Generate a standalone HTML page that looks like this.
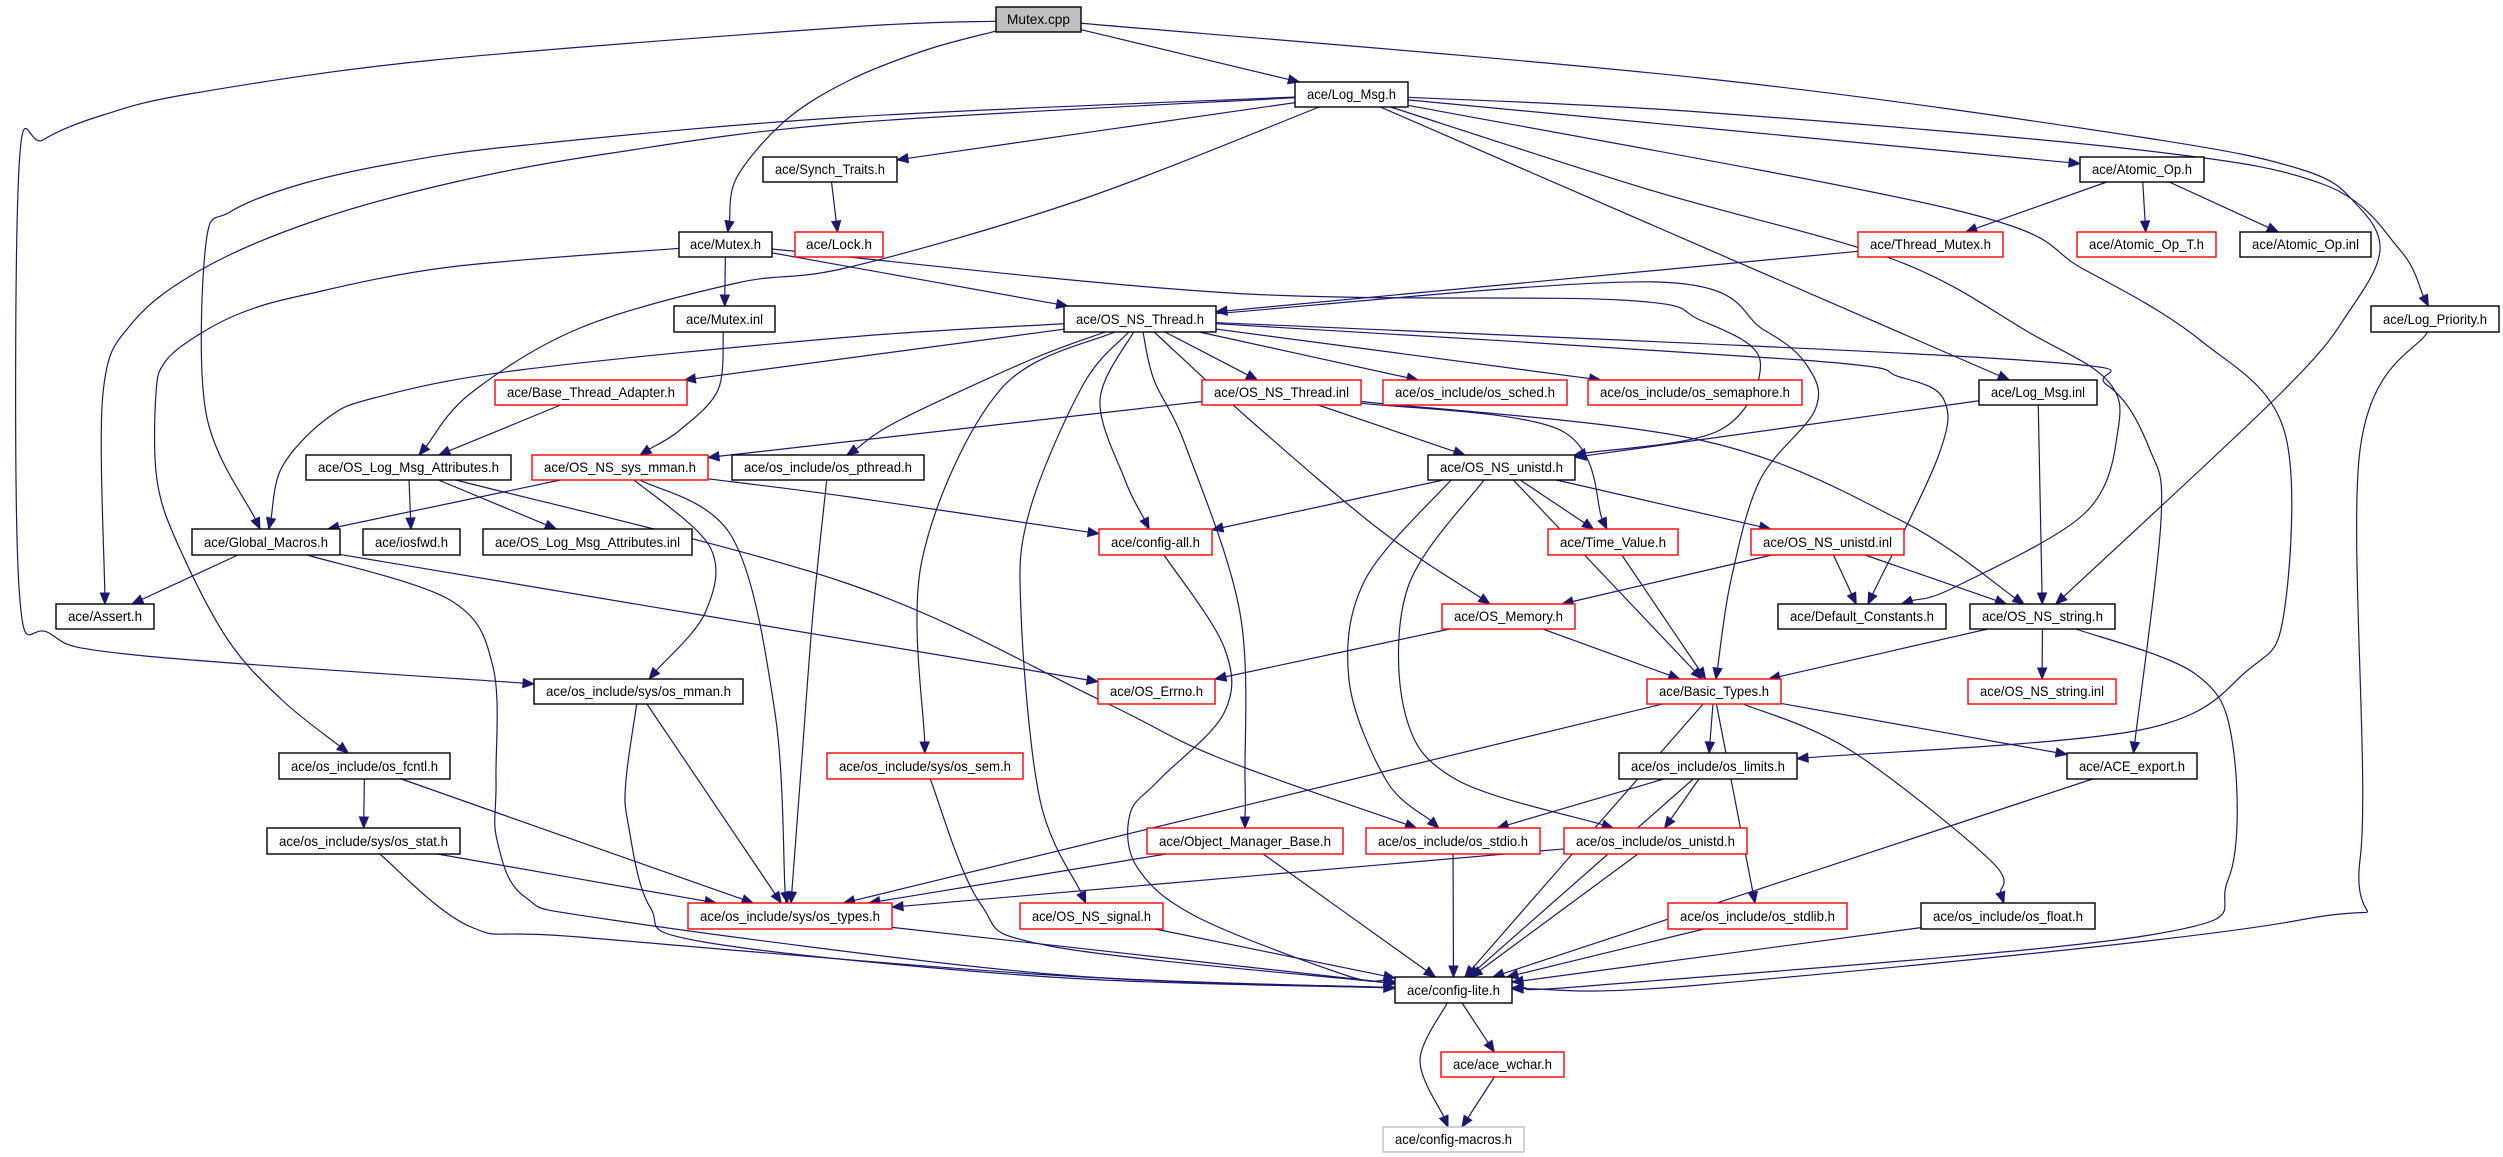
<!DOCTYPE html>
<html><head><meta charset="utf-8"><style>
html,body{margin:0;padding:0;background:#fff;width:2503px;height:1157px;overflow:hidden}
svg{display:block}
text{font-family:"Liberation Sans",sans-serif;font-size:14px;fill:#000}
</style></head><body>
<svg id="g" width="2503" height="1157" viewBox="0 0 2503 1157" xmlns="http://www.w3.org/2000/svg">
<rect width="2503" height="1157" fill="#fff"/>
<g id="edges" fill="none" stroke="#191970" stroke-width="1.2"></g>
<g id="heads" fill="#191970" stroke="#191970"></g>
<g id="nodes" stroke-width="1.4">
<rect x="996" y="7" width="85" height="25" fill="#bfbfbf" stroke="#000"/><text x="1038.5" y="24" text-anchor="middle" textLength="63" lengthAdjust="spacingAndGlyphs">Mutex.cpp</text>
<rect x="1295" y="82" width="113" height="25" fill="#fff" stroke="#000"/><text x="1351.5" y="99" text-anchor="middle" textLength="89" lengthAdjust="spacingAndGlyphs">ace/Log_Msg.h</text>
<rect x="763" y="157" width="134" height="25" fill="#fff" stroke="#000"/><text x="830" y="174" text-anchor="middle" textLength="110" lengthAdjust="spacingAndGlyphs">ace/Synch_Traits.h</text>
<rect x="2080" y="157" width="124" height="25" fill="#fff" stroke="#000"/><text x="2142" y="174" text-anchor="middle" textLength="100" lengthAdjust="spacingAndGlyphs">ace/Atomic_Op.h</text>
<rect x="679" y="232" width="93" height="25" fill="#fff" stroke="#000"/><text x="725.5" y="249" text-anchor="middle" textLength="71" lengthAdjust="spacingAndGlyphs">ace/Mutex.h</text>
<rect x="795" y="232" width="88" height="25" fill="#fff" stroke="#f00"/><text x="839" y="249" text-anchor="middle" textLength="66" lengthAdjust="spacingAndGlyphs">ace/Lock.h</text>
<rect x="1858" y="232" width="145" height="25" fill="#fff" stroke="#f00"/><text x="1930.5" y="249" text-anchor="middle" textLength="121" lengthAdjust="spacingAndGlyphs">ace/Thread_Mutex.h</text>
<rect x="2077" y="232" width="139" height="25" fill="#fff" stroke="#f00"/><text x="2146.5" y="249" text-anchor="middle" textLength="115" lengthAdjust="spacingAndGlyphs">ace/Atomic_Op_T.h</text>
<rect x="2240" y="232" width="131" height="25" fill="#fff" stroke="#000"/><text x="2305.5" y="249" text-anchor="middle" textLength="107" lengthAdjust="spacingAndGlyphs">ace/Atomic_Op.inl</text>
<rect x="674" y="306" width="101" height="26" fill="#fff" stroke="#000"/><text x="724.5" y="324" text-anchor="middle" textLength="77" lengthAdjust="spacingAndGlyphs">ace/Mutex.inl</text>
<rect x="1064" y="306" width="152" height="26" fill="#fff" stroke="#000"/><text x="1140" y="324" text-anchor="middle" textLength="128" lengthAdjust="spacingAndGlyphs">ace/OS_NS_Thread.h</text>
<rect x="2371" y="306" width="128" height="26" fill="#fff" stroke="#000"/><text x="2435" y="324" text-anchor="middle" textLength="104" lengthAdjust="spacingAndGlyphs">ace/Log_Priority.h</text>
<rect x="495" y="380" width="192" height="25" fill="#fff" stroke="#f00"/><text x="591" y="397" text-anchor="middle" textLength="168" lengthAdjust="spacingAndGlyphs">ace/Base_Thread_Adapter.h</text>
<rect x="1202" y="380" width="159" height="25" fill="#fff" stroke="#f00"/><text x="1281.5" y="397" text-anchor="middle" textLength="135" lengthAdjust="spacingAndGlyphs">ace/OS_NS_Thread.inl</text>
<rect x="1383" y="380" width="184" height="25" fill="#fff" stroke="#f00"/><text x="1475" y="397" text-anchor="middle" textLength="160" lengthAdjust="spacingAndGlyphs">ace/os_include/os_sched.h</text>
<rect x="1588" y="380" width="214" height="25" fill="#fff" stroke="#f00"/><text x="1695" y="397" text-anchor="middle" textLength="190" lengthAdjust="spacingAndGlyphs">ace/os_include/os_semaphore.h</text>
<rect x="1979" y="380" width="118" height="25" fill="#fff" stroke="#000"/><text x="2038" y="397" text-anchor="middle" textLength="94" lengthAdjust="spacingAndGlyphs">ace/Log_Msg.inl</text>
<rect x="306" y="455" width="205" height="25" fill="#fff" stroke="#000"/><text x="408.5" y="472" text-anchor="middle" textLength="181" lengthAdjust="spacingAndGlyphs">ace/OS_Log_Msg_Attributes.h</text>
<rect x="532" y="455" width="176" height="25" fill="#fff" stroke="#f00"/><text x="620" y="472" text-anchor="middle" textLength="152" lengthAdjust="spacingAndGlyphs">ace/OS_NS_sys_mman.h</text>
<rect x="732" y="455" width="192" height="25" fill="#fff" stroke="#000"/><text x="828" y="472" text-anchor="middle" textLength="168" lengthAdjust="spacingAndGlyphs">ace/os_include/os_pthread.h</text>
<rect x="1428" y="455" width="147" height="25" fill="#fff" stroke="#000"/><text x="1501.5" y="472" text-anchor="middle" textLength="123" lengthAdjust="spacingAndGlyphs">ace/OS_NS_unistd.h</text>
<rect x="192" y="529" width="148" height="26" fill="#fff" stroke="#000"/><text x="266" y="547" text-anchor="middle" textLength="124" lengthAdjust="spacingAndGlyphs">ace/Global_Macros.h</text>
<rect x="363" y="529" width="97" height="26" fill="#fff" stroke="#000"/><text x="411.5" y="547" text-anchor="middle" textLength="73" lengthAdjust="spacingAndGlyphs">ace/iosfwd.h</text>
<rect x="483" y="529" width="209" height="26" fill="#fff" stroke="#000"/><text x="587.5" y="547" text-anchor="middle" textLength="185" lengthAdjust="spacingAndGlyphs">ace/OS_Log_Msg_Attributes.inl</text>
<rect x="1099" y="529" width="113" height="26" fill="#fff" stroke="#f00"/><text x="1155.5" y="547" text-anchor="middle" textLength="89" lengthAdjust="spacingAndGlyphs">ace/config-all.h</text>
<rect x="1548" y="529" width="130" height="26" fill="#fff" stroke="#f00"/><text x="1613" y="547" text-anchor="middle" textLength="106" lengthAdjust="spacingAndGlyphs">ace/Time_Value.h</text>
<rect x="1751" y="529" width="153" height="26" fill="#fff" stroke="#f00"/><text x="1827.5" y="547" text-anchor="middle" textLength="129" lengthAdjust="spacingAndGlyphs">ace/OS_NS_unistd.inl</text>
<rect x="56" y="604" width="98" height="25" fill="#fff" stroke="#000"/><text x="105" y="621" text-anchor="middle" textLength="74" lengthAdjust="spacingAndGlyphs">ace/Assert.h</text>
<rect x="1442" y="604" width="133" height="25" fill="#fff" stroke="#f00"/><text x="1508.5" y="621" text-anchor="middle" textLength="109" lengthAdjust="spacingAndGlyphs">ace/OS_Memory.h</text>
<rect x="1778" y="604" width="168" height="25" fill="#fff" stroke="#000"/><text x="1862" y="621" text-anchor="middle" textLength="144" lengthAdjust="spacingAndGlyphs">ace/Default_Constants.h</text>
<rect x="1970" y="604" width="145" height="25" fill="#fff" stroke="#000"/><text x="2042.5" y="621" text-anchor="middle" textLength="121" lengthAdjust="spacingAndGlyphs">ace/OS_NS_string.h</text>
<rect x="534" y="679" width="209" height="25" fill="#fff" stroke="#000"/><text x="638.5" y="696" text-anchor="middle" textLength="185" lengthAdjust="spacingAndGlyphs">ace/os_include/sys/os_mman.h</text>
<rect x="1098" y="679" width="117" height="25" fill="#fff" stroke="#f00"/><text x="1156.5" y="696" text-anchor="middle" textLength="93" lengthAdjust="spacingAndGlyphs">ace/OS_Errno.h</text>
<rect x="1647" y="679" width="134" height="25" fill="#fff" stroke="#f00"/><text x="1714" y="696" text-anchor="middle" textLength="110" lengthAdjust="spacingAndGlyphs">ace/Basic_Types.h</text>
<rect x="1968" y="679" width="148" height="25" fill="#fff" stroke="#f00"/><text x="2042" y="696" text-anchor="middle" textLength="124" lengthAdjust="spacingAndGlyphs">ace/OS_NS_string.inl</text>
<rect x="279" y="753" width="171" height="26" fill="#fff" stroke="#000"/><text x="364.5" y="771" text-anchor="middle" textLength="147" lengthAdjust="spacingAndGlyphs">ace/os_include/os_fcntl.h</text>
<rect x="827" y="753" width="196" height="26" fill="#fff" stroke="#f00"/><text x="925" y="771" text-anchor="middle" textLength="172" lengthAdjust="spacingAndGlyphs">ace/os_include/sys/os_sem.h</text>
<rect x="1619" y="753" width="178" height="26" fill="#fff" stroke="#000"/><text x="1708" y="771" text-anchor="middle" textLength="154" lengthAdjust="spacingAndGlyphs">ace/os_include/os_limits.h</text>
<rect x="2067" y="753" width="130" height="26" fill="#fff" stroke="#000"/><text x="2132" y="771" text-anchor="middle" textLength="106" lengthAdjust="spacingAndGlyphs">ace/ACE_export.h</text>
<rect x="267" y="828" width="193" height="26" fill="#fff" stroke="#000"/><text x="363.5" y="846" text-anchor="middle" textLength="169" lengthAdjust="spacingAndGlyphs">ace/os_include/sys/os_stat.h</text>
<rect x="1147" y="828" width="196" height="26" fill="#fff" stroke="#f00"/><text x="1245" y="846" text-anchor="middle" textLength="172" lengthAdjust="spacingAndGlyphs">ace/Object_Manager_Base.h</text>
<rect x="1366" y="828" width="174" height="26" fill="#fff" stroke="#f00"/><text x="1453" y="846" text-anchor="middle" textLength="150" lengthAdjust="spacingAndGlyphs">ace/os_include/os_stdio.h</text>
<rect x="1564" y="828" width="183" height="26" fill="#fff" stroke="#f00"/><text x="1655.5" y="846" text-anchor="middle" textLength="159" lengthAdjust="spacingAndGlyphs">ace/os_include/os_unistd.h</text>
<rect x="688" y="903" width="204" height="26" fill="#fff" stroke="#f00"/><text x="790" y="921" text-anchor="middle" textLength="180" lengthAdjust="spacingAndGlyphs">ace/os_include/sys/os_types.h</text>
<rect x="1020" y="903" width="143" height="26" fill="#fff" stroke="#f00"/><text x="1091.5" y="921" text-anchor="middle" textLength="119" lengthAdjust="spacingAndGlyphs">ace/OS_NS_signal.h</text>
<rect x="1668" y="903" width="179" height="26" fill="#fff" stroke="#f00"/><text x="1757.5" y="921" text-anchor="middle" textLength="155" lengthAdjust="spacingAndGlyphs">ace/os_include/os_stdlib.h</text>
<rect x="1921" y="903" width="174" height="26" fill="#fff" stroke="#000"/><text x="2008" y="921" text-anchor="middle" textLength="150" lengthAdjust="spacingAndGlyphs">ace/os_include/os_float.h</text>
<rect x="1395" y="977" width="117" height="26" fill="#fff" stroke="#000"/><text x="1453.5" y="995" text-anchor="middle" textLength="93" lengthAdjust="spacingAndGlyphs">ace/config-lite.h</text>
<rect x="1441" y="1052" width="123" height="25" fill="#fff" stroke="#f00"/><text x="1502.5" y="1069" text-anchor="middle" textLength="99" lengthAdjust="spacingAndGlyphs">ace/ace_wchar.h</text>
<rect x="1383" y="1127" width="141" height="25" fill="#fff" stroke="#bfbfbf"/><text x="1453.5" y="1144" text-anchor="middle" textLength="117" lengthAdjust="spacingAndGlyphs">ace/config-macros.h</text>
</g>
</svg>
<script>
var N={
cpp:[996,7,1081,32],lm:[1295,82,1408,107],st:[763,157,897,182],ao:[2080,157,2204,182],
mh:[679,232,772,257],lk:[795,232,883,257],tm:[1858,232,2003,257],aot:[2077,232,2216,257],aoi:[2240,232,2371,257],
mi:[674,306,775,332],nt:[1064,306,1216,332],lp:[2371,306,2499,332],
bta:[495,380,687,405],nti:[1202,380,1361,405],sch:[1383,380,1567,405],sem:[1588,380,1802,405],lmi:[1979,380,2097,405],
olma:[306,455,511,480],mm:[532,455,708,480],pth:[732,455,924,480],nu:[1428,455,1575,480],
gm:[192,529,340,555],ios:[363,529,460,555],olmi:[483,529,692,555],ca:[1099,529,1212,555],tv:[1548,529,1678,555],nui:[1751,529,1904,555],
as:[56,604,154,629],mem:[1442,604,1575,629],dc:[1778,604,1946,629],ns:[1970,604,2115,629],
smm:[534,679,743,704],err:[1098,679,1215,704],bt:[1647,679,1781,704],nsi:[1968,679,2116,704],
fc:[279,753,450,779],ssem:[827,753,1023,779],lim:[1619,753,1797,779],ae:[2067,753,2197,779],
sst:[267,828,460,854],omb:[1147,828,1343,854],sio:[1366,828,1540,854],uni:[1564,828,1747,854],
ty:[688,903,892,929],sig:[1020,903,1163,929],sl:[1668,903,1847,929],fl:[1921,903,2095,929],
cl:[1395,977,1512,1003],wc:[1441,1052,1564,1077],cm:[1383,1127,1524,1153]};
var E=[
['cpp','lm'],['cpp','mh',[[926,50],[850,80],[786,120],[737,177]]],
['cpp','smm',[[850,27],[434,60],[195,93],[103,115],[43,140],[19,168],[19,587],[49,633],[135,655]]],
['cpp','ns',[[1700,78],[2140,137],[2303,170],[2357,205],[2380,250],[2350,310],[2284,390]]],
['lm','st'],['lm','ao'],['lm','lp',[[1700,112],[2140,150],[2325,185],[2400,250]]],
['lm','as',[[850,123],[612,153],[455,182],[317,220],[206,267],[133,322],[103,393]]],
['lm','gm',[[850,117],[526,145],[396,163],[298,185],[230,212],[206,243],[206,413]]],
['lm','olma',[[1080,200],[850,267],[737,283],[580,328],[471,393]]],
['lm','lmi'],
['lm','dc',[[1650,190],[1895,260],[2030,333],[2107,380],[2118,430],[2085,513],[1955,587]]],
['lm','lim',[[1955,210],[2085,270],[2200,340],[2284,430],[2284,613],[2248,670],[2140,730]]],
['mh','mi'],['mh','nt'],
['mh','fc',[[450,267],[304,295],[241,313],[195,337],[165,362],[156,393],[157,480],[179,547],[228,640],[282,700]]],
['mh','nu',[[1230,293],[1620,300],[1700,320],[1760,360],[1720,430]]],
['mi','mm',[[718,390],[680,430]]],['st','lk'],['ao','tm'],['ao','aot'],['ao','aoi'],['tm','nt'],['bta','olma'],
['nt','bta'],['nt','gm',[[850,337],[520,370],[374,398],[325,420],[282,467]]],
['nt','nti'],['nt','sch'],['nt','sem'],['nt','pth',[[1030,360],[900,420]]],
['nt','ca',[[1100,400],[1125,480]]],['nt','ssem',[[1000,390],[922,560]]],
['nt','sig',[[1083,385],[1029,513],[1021,613],[1040,800]]],
['nt','omb',[[1154,380],[1186,447],[1240,613],[1245,780]]],
['nt','mem',[[1250,420],[1380,530]]],
['nt','bt',[[1658,282],[1764,330],[1808,367],[1815,410],[1760,480],[1731,580]]],
['nt','dc',[[1802,360],[1900,377],[1944,400],[1938,457]]],
['nt','ae',[[2020,360],[2107,385],[2150,450],[2161,520]]],
['nti','mm'],['nti','nu'],['nti','tv',[[1560,430]]],['nti','ns',[[1700,440],[1900,520]]],
['lmi','nu'],['lmi','ns'],
['nu','ca'],['nu','tv'],['nu','nui'],['nu','bt'],
['nu','sio',[[1451,480],[1365,580],[1349,680],[1386,780]]],
['nu','uni',[[1484,480],[1408,587],[1405,713],[1457,780]]],
['nui','mem'],['nui','dc'],['nui','ns'],['tv','bt'],
['ca','cl',[[1224,647],[1224,713],[1159,780],[1130,814],[1137,867],[1197,917],[1345,975]]],
['mem','err'],['mem','bt'],['ns','bt'],['ns','nsi'],
['ns','cl',[[2194,673],[2232,740],[2228,880],[2150,935],[1600,985]]],
['smm','ty'],['smm','cl',[[626,780],[628,823],[650,907],[704,942],[1050,977]]],
['bt','ty'],['bt','lim'],['bt','ae'],['bt','sl'],['bt','fl',[[1850,750],[1990,860]]],
['bt','cl'],
['gm','as'],['gm','err'],['gm','cl',[[450,600],[493,667],[496,780],[497,840],[525,897],[612,920],[1050,974]]],
['olma','ios'],['olma','olmi'],['olma','sio',[[846,583],[1100,700],[1217,757]]],
['mm','gm'],['mm','ca',[[850,497]]],['mm','smm',[[710,547],[705,613]]],
['mm','ty',[[732,537],[775,713],[785,890]]],['pth','ty',[[813,613],[802,757]]],
['fc','sst'],['fc','ty'],['sst','ty'],
['sst','cl',[[471,927],[579,937],[1050,975]]],
['ssem','cl',[[980,903],[1050,946]]],
['omb','ty'],['omb','cl'],['sio','cl'],['uni','ty'],['uni','cl'],['ty','cl'],['sig','cl'],
['lim','sio'],['lim','uni'],['lim','cl'],['ae','cl'],['sl','cl'],['fl','cl'],
['lp','cl',[[2360,450],[2360,860],[2300,920],[1700,985]]],
['cl','wc'],['cl','cm',[[1420,1060]]],['wc','cm']];
function C(b){return[(b[0]+b[2])/2,(b[1]+b[3])/2]}
function bnd(b,p){var c=C(b),dx=p[0]-c[0],dy=p[1]-c[1],hw=(b[2]-b[0])/2,hh=(b[3]-b[1])/2;
 var t=Math.min(dx?hw/Math.abs(dx):1e9,dy?hh/Math.abs(dy):1e9);return[c[0]+dx*t,c[1]+dy*t]}
var eg=document.getElementById('edges'),hg=document.getElementById('heads'),ns='http://www.w3.org/2000/svg';
E.forEach(function(e){var s=N[e[0]],t=N[e[1]],w=e[2]||[];
 var p0=bnd(s,w.length?w[0]:C(t)),p1=bnd(t,w.length?w[w.length-1]:C(s));
 var pts=[p0].concat(w).concat([p1]);
 var prev=pts[pts.length-2],dx=p1[0]-prev[0],dy=p1[1]-prev[1],L=Math.sqrt(dx*dx+dy*dy)||1;dx/=L;dy/=L;
 var al=11,bx=p1[0]-dx*al,by=p1[1]-dy*al;pts[pts.length-1]=[bx,by];
 var d='M'+pts[0][0]+','+pts[0][1];
 for(var i=0;i<pts.length-1;i++){var a=pts[i-1]||pts[i],b=pts[i],c=pts[i+1],q=pts[i+2]||c;
  d+=' C'+(b[0]+(c[0]-a[0])/6)+','+(b[1]+(c[1]-a[1])/6)+' '+(c[0]-(q[0]-b[0])/6)+','+(c[1]-(q[1]-b[1])/6)+' '+c[0]+','+c[1];}
 var pa=document.createElementNS(ns,'path');pa.setAttribute('d',d);eg.appendChild(pa);
 var hw=4.5,tri=document.createElementNS(ns,'polygon');
 tri.setAttribute('points',p1[0]+','+p1[1]+' '+(bx-dy*hw)+','+(by+dx*hw)+' '+(bx+dy*hw)+','+(by-dx*hw));
 hg.appendChild(tri);});
</script>
</body></html>
